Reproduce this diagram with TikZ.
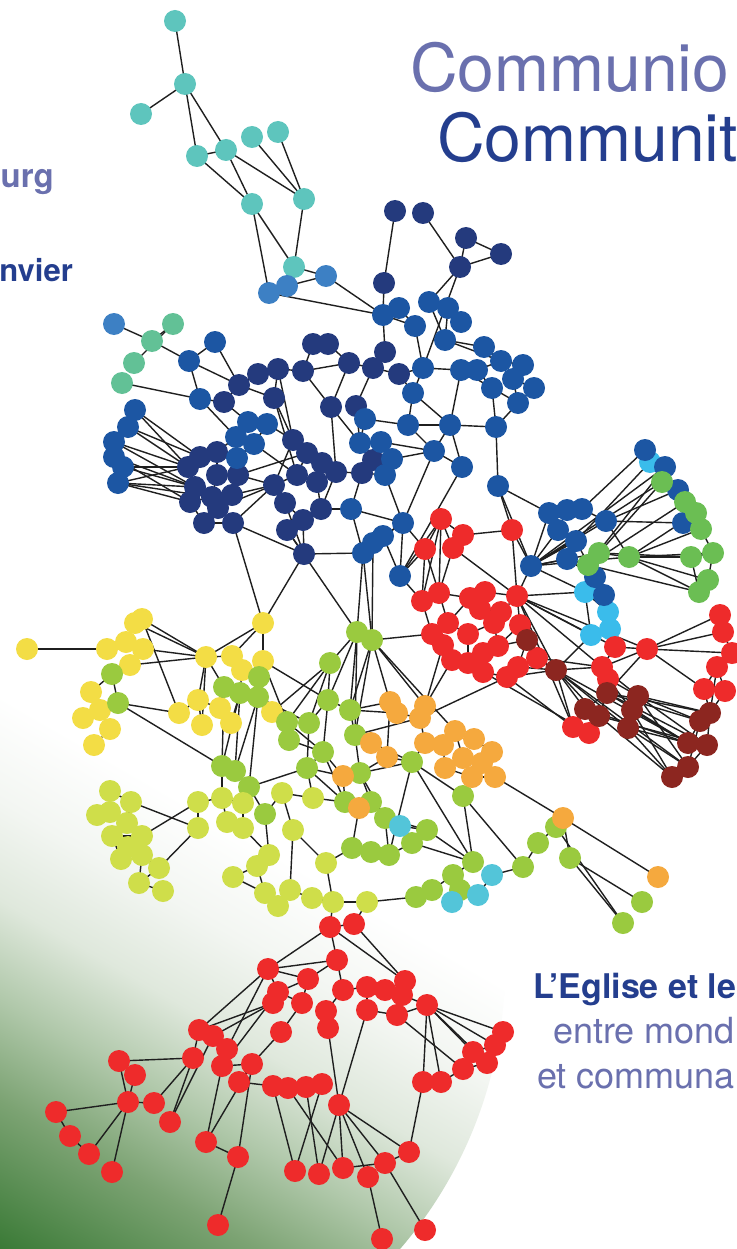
\documentclass[tikz,border=0pt]{standalone}
\usepackage{fontspec}
\setmainfont{TeX Gyre Heros}
\pgfdeclarelayer{bg}
\pgfdeclarelayer{edges}
\pgfsetlayers{bg,edges,main}
\definecolor{cteal}{HTML}{5EC5BD}
\definecolor{clblue}{HTML}{3D80C4}
\definecolor{cblue}{HTML}{1C56A3}
\definecolor{cnavy}{HTML}{243A7D}
\definecolor{cmint}{HTML}{62C196}
\definecolor{cred}{HTML}{EE2B2B}
\definecolor{cdred}{HTML}{8C2620}
\definecolor{ccyan}{HTML}{3ABCEB}
\definecolor{cgrass}{HTML}{6BBE53}
\definecolor{cyellow}{HTML}{F3DD45}
\definecolor{clime}{HTML}{CFDE4A}
\definecolor{colive}{HTML}{9ACA3F}
\definecolor{corange}{HTML}{F5A93E}
\definecolor{caqua}{HTML}{53C5D9}
\definecolor{cpurple}{HTML}{6A70AE}
\definecolor{cdblue}{HTML}{243E8E}
\definecolor{gdark}{HTML}{3A7A36}
\definecolor{gmidA}{HTML}{7CA373}
\definecolor{gmidB}{HTML}{B0C8AA}
\definecolor{gmidC}{HTML}{DFE8DC}
\definecolor{gmidD}{HTML}{F3F6F2}
\pgfdeclareverticalshading{bggrad}{100bp}{color(0bp)=(gdark); color(25bp)=(gdark); color(38.4bp)=(gmidA); color(47.5bp)=(gmidB); color(56.5bp)=(gmidC); color(65.5bp)=(gmidD); color(75bp)=(white); color(100bp)=(white)}
\tikzset{
  dot/.style={circle, minimum size=22pt, inner sep=0pt, draw=none},
  edge/.style={draw=black!88, line width=1.4pt},
  ttl/.style={inner sep=0pt, font=\fontsize{66}{66}\selectfont},
}
\begin{document}
\begin{tikzpicture}[x=1pt,y=-1pt]
\useasboundingbox (0,0) rectangle (736,1249);
\begin{pgfonlayer}{bg}
\fill[white] (0,0) rectangle (736,1249);
\begin{scope}
\clip (71,966) circle (434);
\shade[shading=bggrad, transform canvas={shift={(0,1249)}, rotate=-30}] (-800,0) rectangle (800,-480);
\end{scope}
\end{pgfonlayer}

% titles
\node[ttl, anchor=base west, text=cpurple] (tA) at (410,92) {Communio};
\node[ttl, anchor=base west, text=cdblue] (tB) at (437,162) {Communit};
\node[inner sep=0pt, anchor=base east, text=cpurple, font=\bfseries\fontsize{33}{33}\selectfont] (tC) at (54,188) {urg};
\node[inner sep=0pt, anchor=base east, text=cdblue, font=\bfseries\fontsize{31}{31}\selectfont] (tD) at (73,281) {nvier};
\node[inner sep=0pt, anchor=base west, text=cdblue, font=\bfseries\fontsize{34}{34}\selectfont] (tE) at (533,998) {L’Eglise et le};
\node[inner sep=0pt, anchor=base west, text=cpurple, font=\fontsize{36}{36}\selectfont] (tF) at (553,1043) {entre mond};
\node[inner sep=0pt, anchor=base west, text=cpurple, font=\fontsize{36}{36}\selectfont] (tG) at (537,1088) {et communa};

% nodes
\foreach \n/\x/\y in {c1/650/462, c2/585/592, c3/608/612, c4/610/629, c5/591/635}
  \node[dot, fill=ccyan] (\n) at (\x,\y) {};
\foreach \n/\x/\y in {t1/175/21, t2/185/84, t3/141/114, t4/197/156, t5/226/150, t6/252/137, t7/278/132, t8/252/204, t9/304/199, t10/294/267}
  \node[dot, fill=cteal] (\n) at (\x,\y) {};
\foreach \n/\x/\y in {l1/269/293, l2/287/286, l3/326/276, l4/114/324}
  \node[dot, fill=clblue] (\n) at (\x,\y) {};
\foreach \n/\x/\y in {m1/173/324, m2/152/341, m3/134/363, m4/122/383}
  \node[dot, fill=cmint] (\n) at (\x,\y) {};
\foreach \n/\x/\y in {n1/395/211, n2/423/213, n3/466/238, n4/501/254, n5/460/267, n6/384/283, n7/385/352, n8/349/363, n9/373/368, n10/399/374, n11/356/406, n12/373/460, n13/362/473, n15/224/402, n16/239/385, n17/258/374, n18/278/369, n19/303/371, n20/274/398, n21/313/344, n22/328/344, n27/331/407, n29/293/440, n30/307/453, n31/322/463, n32/336/472, n33/297/475, n34/317/482, n36/200/457, n37/217/452, n38/188/467, n39/217/475, n40/238/475, n41/195/487, n42/212/497, n43/232/495, n44/190/502, n45/218/508, n46/204/523, n47/233/523, n48/274/485, n49/285/503, n50/287/530, n51/303/520, n52/321/509, n53/304/554}
  \node[dot, fill=cnavy] (\n) at (\x,\y) {};
\foreach \n/\x/\y in {b1/383/315, b2/399/308, b3/429/302, b4/448/308, b5/461/322, b6/415/326, b7/445/340, b8/423/368, b9/461/370, b10/477/370, b11/484/347, b12/501/361, b13/523/365, b14/513/379, b15/534/388, b16/492/388, b17/518/403, b18/413/393, b19/365/419, b20/408/425, b21/450/425, b22/496/427, b23/360/443, b24/381/442, b25/392/459, b26/434/451, b27/462/467, b28/385/475, b29/498/486, b30/215/342, b31/189/361, b32/200/399, b33/248/422, b34/267/424, b35/236/437, b36/254/444, b38/237/458, b39/351/509, b40/363/553, b41/373/543, b42/383/536, b43/403/523, b44/400/576, b45/135/410, b46/128/427, b47/114/442, b48/114/457, b49/123/467, b50/118/483, b52/531/566, b53/549/513, b54/567/510, b55/582/509, b56/558/530, b57/576/541, b58/567/559, b59/606/521, b60/645/450, b61/665/467, b62/678/490, b63/683/523, b64/595/577, b65/604/595}
  \node[dot, fill=cblue] (\n) at (\x,\y) {};
\foreach \n/\x/\y in {g1/662/482, g2/685/502, g3/696/513, g4/701/529, g5/713/553, g6/691/557, g7/708/580, g8/699/592, g9/629/557, g10/599/553, g11/588/565}
  \node[dot, fill=cgrass] (\n) at (\x,\y) {};
\foreach \n/\x/\y in {r1/441/519, r2/425/549, r3/453/548, r4/463/535, r5/512/530, r6/517/596, r7/422/601, r8/439/593, r9/470/598, r10/485/592, r11/480/609, r12/501/612, r13/432/634, r14/448/623, r15/468/634, r16/494/623, r17/498/646, r18/520/625, r19/443/645, r20/452/660, r21/468/663, r22/483/653, r23/483/672, r24/507/677, r25/518/667, r26/537/658, r27/615/647, r28/647/649, r29/602/667, r30/608/679, r31/573/727, r32/589/733, r33/720/615, r34/723/632, r35/732/653, r36/717/667, r37/704/689, r38/725/691}
  \node[dot, fill=cred] (\n) at (\x,\y) {};
\foreach \n/\x/\y in {d1/527/640, d2/556/670, d3/607/693, d4/585/709, d5/599/716, d6/638/696, d7/632/710, d8/628/728, d9/710/713, d10/700/721, d11/688/743, d12/707/745, d13/688/767, d14/672/777}
  \node[dot, fill=cdred] (\n) at (\x,\y) {};
\foreach \n/\x/\y in {y1/27/649, y2/107/649, y3/126/642, y4/135/623, y5/142/619, y6/143/649, y7/130/665, y8/91/692, y9/100/710, y10/83/718, y11/110/729, y12/94/745, y13/206/657, y14/232/656, y15/242/670, y16/263/661, y17/263/623, y18/198/700, y19/179/713, y20/202/725, y21/220/708, y22/231/723, y23/272/712}
  \node[dot, fill=cyellow] (\n) at (\x,\y) {};
\foreach \n/\x/\y in {o1/357/632, o2/372/640, o3/330/663, o4/328/700, o5/350/710, o6/287/722, o7/309/723, o6b/289/740, o8/355/735, o9/323/752, o10/307/768, o11/360/773, o12/412/762, o13/345/802, o14/371/802, o15/385/818, o16/463/796, o17/427/830, o18/412/843, o19/352/848, o20/371/852, o21/389/855, o22/473/862, o23/453/875, o24/460/890, o25/416/897, o26/432/890, o27/523/867, o28/538/843, o29/556/827, o30/570/858, o31/642/902, o32/623/923, o33/112/674, o34/118/703, o35/224/687, o36/240/693, o37/259/677, o38/258/697, o39/222/766, o40/235/771, o41/249/787, o42/265/814}
  \node[dot, fill=colive] (\n) at (\x,\y) {};
\foreach \n/\x/\y in {or1/390/702, or2/397/713, or3/425/706, or4/420/718, or5/371/743, or6/387/757, or7/425/743, or8/443/745, or9/455/731, or10/474/739, or11/492/752, or12/445/768, or13/463/758, or14/482/763, or15/472/777, or16/495/777, or17/343/776, or18/359/808, or19/563/818, or20/658/877}
  \node[dot, fill=corange] (\n) at (\x,\y) {};
\foreach \n/\x/\y in {k1/400/826, k2/492/875, k3/478/895, k4/452/902}
  \node[dot, fill=caqua] (\n) at (\x,\y) {};
\foreach \n/\x/\y in {lim1/110/791, lim2/131/802, lim3/97/815, lim4/110/812, lim5/127/823, lim6/112/836, lim7/142/836, lim8/121/859, lim9/142/855, lim10/128/847, lim11/159/868, lim12/139/883, lim13/163/891, lim14/198/802, lim15/198/828, lim16/222/798, lim17/243/803, lim18/227/822, lim19/243/828, lim20/282/793, lim21/313/798, lim22/293/830, lim23/269/855, lim24/257/866, lim25/233/877, lim26/265/893, lim27/290/890, lim28/312/898, lim31/326/863, lim32/333/902, lim33/367/902, lim34/278/906}
  \node[dot, fill=clime] (\n) at (\x,\y) {};
\foreach \n/\x/\y in {rb1/330/927, rb2/354/924, rb3/337/960, rb4/268/969, rb5/308/979, rb6/278/992, rb7/273/1003, rb8/302/1003, rb9/343/990, rb10/367/987, rb11/385/990, rb12/405/981, rb13/402/995, rb14/427/1005, rb15/367/1010, rb16/397/1015, rb17/326/1011, rb18/328/1028, rb19/199/1030, rb20/213/1036, rb21/227/1049, rb22/193/1058, rb23/222/1066, rb24/252/1064, rb25/239/1082, rb26/281/1032, rb27/119/1061, rb28/135/1075, rb29/128/1102, rb30/154/1103, rb31/170/1122, rb32/56/1112, rb33/70/1136, rb34/89/1154, rb35/112/1172, rb36/206/1142, rb37/238/1157, rb38/218/1225, rb39/273/1086, rb40/288/1088, rb41/306/1087, rb42/322/1084, rb43/339/1105, rb44/295/1171, rb45/319/1174, rb46/343/1168, rb47/368/1177, rb48/385/1163, rb49/409/1152, rb50/382/1239, rb51/425/1230, rb52/423/1082, rb53/441/1082, rb54/463/1069, rb55/473/1052, rb56/487/1063, rb57/495/1045, rb58/503/1032}
  \node[dot, fill=cred] (\n) at (\x,\y) {};

\begin{pgfonlayer}{edges}
% teal, mint
\foreach \a/\b in {t1/t2, t2/t3, t2/t4, t2/t5, t4/t5, t4/t8, t5/t8, t5/t9, t6/t9, t7/t9, t8/l1, t8/t10, t9/t10, t10/l3, l1/l2, l2/l3, l1/b1, l3/b1,
 l4/m2, m1/m2, m1/m3, m2/b31, m4/b32}
  \draw[edge] (\a.center) -- (\b.center);
% top blue
\foreach \a/\b in {n1/n6, n2/n5, n3/n4, n3/n5, n4/n5, n5/b3, n5/b8, n6/b1, b1/b2, b1/n7, b1/b6, b2/b6, b3/b4, b4/b5, b3/b7, b4/b7, b6/b8, b7/b12, b7/b11, b9/b10, b10/b12, b10/b16, b11/b12, b12/b13, b13/b14, b14/b15, b15/b17, b14/b17, b16/b17, b16/b22, b17/b22, b8/b9, b8/b18, b18/b21, b21/b22, b21/b9, b21/b27, b21/b26, b20/b21, b18/b20, b9/b16}
  \draw[edge] (\a.center) -- (\b.center);
% navy upper and middle
\foreach \a/\b in {b30/b31, b30/n16, b31/n16, b31/b32, b32/b35, n15/n16, n15/b33, n16/n17, n17/n18, n18/n19, n19/n21, n21/n22, n22/n8, n19/n8, n8/n9, n9/n7, n9/n10, n18/n20, n16/n20, n20/n29, n18/n29, n19/n27, n8/n27, n9/n11, n10/b18, n10/b8, n11/b19, n27/b23, n27/n32, n11/b23, b19/b23, b19/b20, b20/b26, b23/b24, b24/n12, b24/b26, b25/b26, n12/b25, n13/b28, b28/b25, b28/b43, b26/b27, b26/b43, b27/b44, b22/b29, b29/b52, b29/b53, b29/r5, b43/b41, b43/b42, b40/b41, b41/b42, b44/b43, b44/b42, b39/b40, b39/b43, n53/b40, n13/n12, n32/n13, b39/n13}
  \draw[edge] (\a.center) -- (\b.center);
% navy left
\foreach \a/\b in {b32/n15, b45/n38, b45/n36, b46/n38, b46/n36, b47/n38, b47/n41, b48/n41, b48/n44, b49/n41, b49/n38, b50/n38, b50/n41, b50/n44, b50/n42, b47/b46, b45/b46, b48/b49, b49/b50, b47/b48, n36/n37, n36/n38, n37/n39, n38/n41, n39/n40, n39/n42, n40/n43, n41/n44, n42/n45, n43/n45, n44/n46, n45/n46, n45/n47, n46/n47, n40/n48, n43/n48, n47/n48, n45/n48, n44/n42, n42/n43, n37/b35, b35/b36, b33/b34, b33/b35, b34/b36, b34/n29, b36/n33, b38/n36, b38/n40, b36/b38, n40/n30, n29/n30, n30/n31, n31/n32, n30/n33, n33/n34, n34/n31, n34/n52, n32/n52, n33/n48, n48/n49, n49/n51, n50/n51, n51/n52, n50/n53, n51/n53, n49/n53, n52/b39, n47/n53, n47/y17, n53/y17, n48/n29, n20/n33}
  \draw[edge] (\a.center) -- (\b.center);
% blue-red, right blue/green
\foreach \a/\b in {b43/r2, b44/r2, b44/r7, b44/r1, r1/r2, r1/r3, r1/r4, r3/r4, r4/r5, r3/r6, r5/r6, r5/b52, r2/r7, r3/r8,
 b53/b54, b54/b55, b53/b56, b56/b57, b57/b58, b55/b59, b52/b53, b52/b56, b52/b57, b52/b58, b52/b59, b52/g10, b52/g9, b52/g1, b52/b61, b52/c2, b52/r6, b55/b60, b57/c1, b60/c1, c1/b61, b61/g1, g1/b62, b62/g2, g1/g2, g2/g3, g3/g4, b63/g3, b63/g4, g4/g5, g5/g6, g5/g7, g7/g8, g6/g8, b59/g9, b59/b63, b59/b62, g9/g6, g9/g5, g9/g4, g9/g3, g9/g8, g9/g7, g10/g9, g10/g11, g10/g1, g11/b61, g11/g8, g10/g6, g11/c2, b64/b65, b58/b64, c3/b65, c3/c4, c4/c5, c5/c2, c2/c3, g11/g2, b58/g11, b57/b64}
  \draw[edge] (\a.center) -- (\b.center);
% red ring and dark red
\foreach \a/\b in {r7/r8, r8/r9, r9/r10, r10/r11, r11/r12, r12/r16, r16/r17, r17/r22, r22/r21, r21/r20, r20/r19, r19/r13, r13/r7, r13/r14, r14/r9, r14/r15, r15/r16, r15/r21, r8/r14, r1/r7, r1/r8, r2/r8, r6/r12, r6/r18, r18/r17, r6/r10, r18/d1, r17/d1, r25/d1, r24/r25, r25/r26, r23/r24, r22/r23, r26/d2, r24/d2, r25/d2, r6/c2, r6/c5, r6/r29, r6/r31, r6/d2, r6/r27, r6/r28, r26/r29, d2/r29, c5/d2, c4/r27, c3/r27, r27/r28, r28/r33, r28/r34, r28/r35, r28/r37, r27/r29, r29/r30, r30/d3, r28/r29, r28/d3, r33/r34, r34/r35, r35/r36, r36/r37, r37/r38, r36/r38, r38/d9, r37/d9, r36/d9, d3/d4, d3/d5, d4/d5, d4/r31, r31/r32, r32/d5, d2/d4, d2/r31, d2/d5, d2/d8, d2/d11, d2/d13, d6/d7, d7/d8, d6/r30, d9/d10, d10/d11, d11/d12, d12/d13, d13/d14, d3/d9, d3/d10, d3/d11, d3/d12, d6/d9, d6/d10, d6/d12, d6/d13, d7/d11, d7/d14, d8/d11, d8/d13, d8/d14, d4/d11, d5/d12, d5/d14, r24/r31, r23/r32, r29/d6, r30/d7, d9/d12, d10/d13}
  \draw[edge] (\a.center) -- (\b.center);
% green / orange middle
\foreach \a/\b in {o1/o2, o1/o3, o1/o4, o1/o5, o1/o8, o2/o5, o2/o8, o2/or3, o2/or1, o2/r13, o2/or9, o1/b40, o2/b40, o1/n50, o2/b41, o3/o4, o3/o7, o3/o6, o4/o5, o4/o7, o4/o9, o5/or1, o5/o8, o6/o7, o6/o9, o7/o10, o8/o11, o8/or5, o9/o10, o9/o13, o10/o13, o11/o12, o11/or6, o11/o15, o12/or6, o12/or7, o12/o16, o13/o14, o14/o15, o15/k1, o15/o17, o14/or18, or18/o19, o13/or17, or17/o10, o19/o20, o20/o21, o21/o18, o18/o17, o17/k1, o17/o22, o18/o22, o22/o23, o23/o24, o24/k3, k3/k2, k2/o27, o27/o28, o28/o29, o29/or19, or19/o30, o30/o31, o30/o32, o29/o32, or16/or19, or19/or20, or15/o16, o16/o27, o16/o22, o25/o26, o26/o23, o25/lim33, o24/k4, k4/o23, o11/o14, or5/or6, or1/or2, or3/or4, or2/or4, or4/or7, or7/or8, or8/or9, or9/or10, or10/or11, or11/or14, or12/or13, or13/or14, or14/or16, or15/or16, or12/or15, or8/or12, or9/or13, or17/o9, r19/or3, r20/or3, r24/or4, o8/or4, or1/or6, o6/o6b, o6b/o9, o12/o21, o15/o21, k1/o18, o8/o12, o5/or2, o12/o22}
  \draw[edge] (\a.center) -- (\b.center);
% yellow and lime
\foreach \a/\b in {y1/y2, y2/y3, y3/y4, y4/y5, y3/y6, y6/y7, y5/y13, y6/y13, y7/y13, y5/y19, y7/o33, o33/o34, o34/y19, o34/o39, y8/y9, y9/y10, y9/y11, y11/y12, o33/y8, y13/y14, y13/y18, y13/y20, y13/o35, y13/y17, y17/y14, y17/y16, y16/o37, y14/y15, y15/o36, y18/y19, y18/y20, y21/y22, y21/o35, y22/o36, o35/o36, o36/o38, o37/o38, y16/o6, y23/o6, y16/o4, y23/o3, o35/o39, o36/o39, o36/o40, o38/o40, o38/o41, o38/o7, o39/o40, o40/o41, o41/o42, o41/o10, o39/lim16, o42/lim23, o42/lim20, y15/o37, y4/y13, y21/y18,
 lim1/lim2, lim1/lim4, lim3/lim4, lim4/lim5, lim2/lim5, lim5/lim6, lim6/lim7, lim5/lim7, lim7/lim10, lim6/lim8, lim8/lim10, lim10/lim9, lim9/lim11, lim11/lim12, lim12/lim13, lim9/lim12, lim7/lim14, lim2/lim15, lim11/lim15, lim14/lim16, lim14/lim15, lim16/lim17, lim17/lim19, lim18/lim19, lim16/lim18, lim17/o41, lim19/lim23, lim23/lim24, lim24/lim25, lim24/lim26, lim26/lim34, lim34/lim27, lim27/lim28, lim28/lim32, lim32/lim33, lim20/lim21, lim20/lim22, lim21/o10, lim22/lim31, lim31/lim32, lim31/o19, lim21/o13, lim22/lim27, lim25/lim26}
  \draw[edge] (\a.center) -- (\b.center);
% bottom red
\foreach \a/\b in {rb1/rb3, rb1/rb4, rb1/rb12, rb2/rb12, rb1/lim32, rb2/lim33, rb1/rb2, rb4/rb3, rb4/rb5, rb3/rb5, rb3/rb9, rb5/rb6, rb4/rb6, rb6/rb7, rb6/rb8, rb5/rb8, rb7/rb19, rb7/rb20, rb4/rb19, rb4/rb21, rb6/rb23, rb9/rb10, rb10/rb11, rb11/rb12, rb12/rb13, rb13/rb14, rb10/rb15, rb15/rb16, rb16/rb14, rb14/rb58, rb14/rb57, rb14/rb55, rb14/rb56, rb14/rb52, rb14/rb53, rb16/rb54, rb15/rb43, rb17/rb18, rb9/rb17, rb8/rb26, rb26/rb24, rb24/rb23, rb23/rb21, rb21/rb20, rb20/rb19, rb19/rb22, rb27/rb22, rb27/rb28, rb28/rb29, rb27/rb29, rb29/rb32, rb29/rb30, rb30/rb22, rb31/rb22, rb31/rb20, rb29/rb34, rb29/rb35, rb32/rb33, rb33/rb34, rb23/rb36, rb24/rb36, rb36/rb37, rb24/rb37, rb37/rb38, rb25/rb24, rb25/rb39, rb39/rb40, rb40/rb41, rb41/rb42, rb39/rb44, rb41/rb45, rb42/rb44, rb40/rb46, rb43/rb46, rb43/rb45, rb43/rb47, rb43/rb48, rb43/rb49, rb47/rb50, rb46/rb48, rb48/rb49, rb48/rb51, rb49/rb52, rb52/rb53, rb53/rb54, rb54/rb56, rb56/rb55, rb55/rb57, rb57/rb58, rb18/rb43}
  \draw[edge] (\a.center) -- (\b.center);
\end{pgfonlayer}
\end{tikzpicture}
\end{document}
